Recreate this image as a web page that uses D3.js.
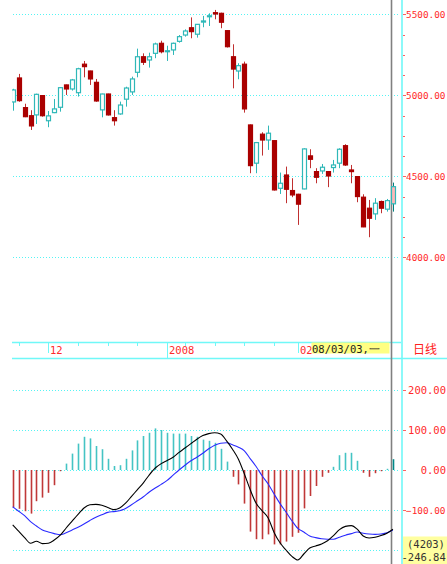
<!DOCTYPE html>
<html>
<head>
<meta charset="utf-8">
<style>
    body, html {
        margin: 0;
        padding: 0;
        background: #fff;
    }
    svg {
        display: block;
    }
    text {
        font-family: "DejaVu Sans Mono", "Liberation Mono", monospace;
        font-size: 10.5px;
    }
    text.long {
        font-size: 9.4px;
    }
</style>
</head>
<body>
<svg width="447" height="564"></svg>

<script src="https://d3js.org/d3.v7.min.js"></script>
<script>
    // daily candles, SSE composite, late Nov 2007 .. 2008-03-03
    var opens  = [4959, 5107, 4924, 4874, 4879, 4998, 4843, 4893, 4926, 5064, 5039, 5016, 5192, 5150, 5080, 4910,
                  5008, 4862, 4885, 4976, 5021, 5142, 5238, 5218, 5259, 5321, 5269, 5280, 5333, 5372, 5417, 5377,
                  5452, 5485, 5510, 5506, 5399, 5238, 5150, 5192, 4817, 4581, 4760, 4724, 4720, 4426, 4508, 4412,
                  4389, 4422, 4626, 4529, 4533, 4529, 4554, 4581, 4689, 4539, 4498, 4371, 4303, 4268, 4344, 4297, 4330];
    var highs  = [5040, 5132, 4948, 4908, 5010, 5000, 4903, 4977, 5050, 5066, 5101, 5170, 5212, 5152, 5101, 5010,
                  5010, 4908, 4961, 5053, 5115, 5288, 5259, 5263, 5325, 5337, 5306, 5325, 5372, 5407, 5481, 5440,
                  5490, 5506, 5527, 5510, 5402, 5315, 5198, 5208, 4820, 4712, 4772, 4813, 4722, 4523, 4560, 4488,
                  4392, 4673, 4667, 4550, 4576, 4531, 4601, 4673, 4698, 4570, 4500, 4389, 4354, 4365, 4350, 4360, 4461];
    var lows   = [4905, 4960, 4865, 4786, 4823, 4868, 4803, 4890, 4899, 5002, 5029, 4992, 5111, 5064, 4960, 4864,
                  4875, 4813, 4880, 4930, 5002, 5111, 5187, 5171, 5229, 5259, 5212, 5249, 5325, 5362, 5352, 5356,
                  5420, 5428, 5469, 5414, 5295, 5043, 5099, 4893, 4519, 4519, 4628, 4663, 4412, 4391, 4334, 4371,
                  4200, 4420, 4550, 4457, 4515, 4433, 4523, 4550, 4564, 4457, 4340, 4186, 4124, 4231, 4272, 4282, 4282];
    var closes = [5033, 4967, 4868, 4811, 5006, 4874, 4873, 4916, 5047, 5039, 5095, 5164, 5177, 5101, 4965, 5008,
                  4879, 4843, 4940, 5045, 5101, 5238, 5204, 5238, 5317, 5269, 5275, 5321, 5362, 5397, 5393, 5438,
                  5459, 5491, 5502, 5451, 5300, 5162, 5183, 4916, 4566, 4708, 4724, 4766, 4416, 4457, 4420, 4385,
                  4328, 4669, 4605, 4494, 4556, 4502, 4570, 4667, 4570, 4529, 4375, 4188, 4241, 4334, 4303, 4350, 4436];

    // MACD: DIF (black), DEA (blue), bars
    var dif  = [-137, -153, -169, -183, -178, -184, -183, -175, -163, -145, -128, -111, -95, -87, -86, -88,
                -94, -99, -95, -83, -66, -49, -32, -12, 5, 16, 24, 32, 44, 55, 66, 77,
                86, 91, 93, 90, 73, 52, 27, -10, -50, -84, -102, -120, -156, -182, -200, -216,
                -225, -210, -195, -190, -185, -177, -164, -149, -141, -139, -148, -165, -170, -168, -164, -158, -148];
    var dea  = [-92, -103, -114, -129, -140, -150, -155, -159, -162, -157, -150, -143, -135, -126, -118, -112,
                -106, -104, -102, -96, -87, -77, -67, -55, -45, -36, -26, -13, 0, 12, 23, 32,
                42, 53, 62, 67, 68, 63, 57, 48, 28, 8, -15, -35, -60, -84, -105, -127,
                -146, -155, -165, -169, -172, -173, -173, -168, -163, -159, -155, -158, -160, -161, -160, -157, -150];
    var bars = [-94, -97, -103, -109, -78, -69, -57, -38, -3, 16, 41, 66, 83, 79, 60, 52,
                28, 10, 12, 28, 49, 74, 85, 93, 104, 100, 93, 91, 91, 91, 85, 83,
                76, 73, 68, 53, 21, -17, -36, -84, -154, -173, -173, -161, -186, -186, -179, -167,
                -157, -96, -65, -40, -17, -7, 8, 37, 43, 43, 23, -7, -17, -8, -3, 3, 27];

    var priceTicks = [4000, 4500, 5000, 5500];
    var macdGrid = [-200, -100, 0, 100, 200];
    var macdLabels = [-100, 0, 100, 200];
    var weekTicks = [1, 6, 11, 16, 21, 26, 29, 34, 39, 44, 48];
    var monthIdx = [6, 26, 48];
    var monthText = ["12", "2008", "02"];
    var cursorDate = "08/03/03,一";
    var periodText = "日线";
    var infoText = ["(4203)", "-246.84"];

    var n = closes.length;
    var svg = d3.select("svg");

    var x = d3.scaleLinear().domain([0, n - 1]).range([12.7, 392.9]);
    var yP = d3.scaleLinear().domain([4000, 5500]).range([257.3, 14.3]);
    var yM = d3.scaleLinear().domain([-200, 200]).range([550, 390]);

    var gridColor = "#55f4f4";
    var axisColor = "#70f8f8";
    var upColor = "#2fb8b8";
    var downColor = "#aa0000";
    var labelColor = "#ff2a2a";

    svg.append("defs").append("clipPath").attr("id", "plot")
        .append("rect").attr("x", 12).attr("y", 0).attr("width", 389).attr("height", 564);

    // GRID
    svg.append("g").selectAll("line").data(priceTicks).join("line")
        .attr("x1", 13).attr("x2", 400)
        .attr("y1", d => Math.round(yP(d)) + 0.5).attr("y2", d => Math.round(yP(d)) + 0.5)
        .attr("stroke", gridColor).attr("stroke-dasharray", "1,2");

    svg.append("g").selectAll("line").data(macdGrid).join("line")
        .attr("x1", 13).attr("x2", 400)
        .attr("y1", d => Math.round(yM(d)) + 0.5).attr("y2", d => Math.round(yM(d)) + 0.5)
        .attr("stroke", gridColor).attr("stroke-dasharray", "1,2");

    // DATE STRIP
    svg.append("line").attr("x1", 12).attr("x2", 401).attr("y1", 342.5).attr("y2", 342.5)
        .attr("stroke", axisColor).attr("stroke-width", 1.5);
    svg.append("line").attr("x1", 12).attr("x2", 447).attr("y1", 358.5).attr("y2", 358.5)
        .attr("stroke", axisColor).attr("stroke-width", 1.5);

    svg.append("g").selectAll("line").data(weekTicks).join("line")
        .attr("x1", d => Math.round(x(d)) + 0.5).attr("x2", d => Math.round(x(d)) + 0.5)
        .attr("y1", 342).attr("y2", d => monthIdx.indexOf(d) < 0 ? 346 : (d === 26 ? 358 : 353))
        .attr("stroke", axisColor);

    svg.append("g").selectAll("text").data(monthIdx).join("text")
        .attr("x", d => Math.round(x(d)) + 2)
        .attr("y", 353.5)
        .attr("fill", labelColor)
        .text((d, i) => monthText[i]);

    // crosshair
    svg.append("line").attr("x1", 391.5).attr("x2", 391.5).attr("y1", 0).attr("y2", 564)
        .attr("stroke", "#808080").attr("stroke-width", 1.6);

    svg.append("rect").attr("x", 311.5).attr("y", 342.5).attr("width", 78).attr("height", 11)
        .attr("fill", "#ffff82");
    svg.append("text").attr("x", 312).attr("y", 352.5).attr("fill", "#222").text(cursorDate);

    // RIGHT AXIS
    svg.append("line").attr("x1", 402).attr("x2", 402).attr("y1", 0).attr("y2", 564)
        .attr("stroke", axisColor).attr("stroke-width", 1.6);

    svg.append("g").selectAll("line").data(d3.range(4000, 5501, 125)).join("line")
        .attr("x1", 403).attr("x2", d => d % 500 === 0 ? 406 : 405)
        .attr("y1", d => Math.round(yP(d)) + 0.5).attr("y2", d => Math.round(yP(d)) + 0.5)
        .attr("stroke", "#ff6060");

    // 7-char labels get a smaller size so they fit left of the window edge
    svg.append("g").selectAll("text").data(priceTicks).join("text")
        .attr("class", "long")
        .attr("x", 406).attr("y", d => yP(d) + 4)
        .attr("fill", labelColor)
        .text(d3.format(".2f"));

    svg.append("g").selectAll("line").data(macdLabels).join("line")
        .attr("x1", 403).attr("x2", 406)
        .attr("y1", d => Math.round(yM(d)) + 0.5).attr("y2", d => Math.round(yM(d)) + 0.5)
        .attr("stroke", "#ff6060");

    svg.append("g").selectAll("text").data(macdLabels).join("text")
        .attr("class", d => d < 0 ? "long" : null)
        .attr("x", d => d < 0 ? 406 : 446)
        .attr("text-anchor", d => d < 0 ? "start" : "end")
        .attr("y", d => yM(d) + 4)
        .attr("fill", labelColor)
        .text(d3.format(".2f"));

    svg.append("text").attr("x", 413).attr("y", 353.5)
        .attr("fill", "#ff2020")
        .style("font-family", "'Noto Sans CJK SC', sans-serif").style("font-size", "12px")
        .text(periodText);

    svg.append("rect").attr("x", 403).attr("y", 536.5).attr("width", 44).attr("height", 28)
        .attr("fill", "#ffffa0");
    svg.append("g").selectAll("text").data(infoText).join("text")
        .attr("x", (d, i) => i === 0 ? 407 : 401.5)
        .attr("y", (d, i) => 548 + i * 13)
        .attr("fill", "#333")
        .text(d => d);

    // CANDLES
    var plot = svg.append("g").attr("clip-path", "url(#plot)");
    var idx = d3.range(n);
    var last = n - 1;

    plot.append("g").selectAll("line").data(idx).join("line")
        .attr("x1", i => Math.round(x(i)) + 0.5).attr("x2", i => Math.round(x(i)) + 0.5)
        .attr("y1", i => yP(highs[i])).attr("y2", i => yP(lows[i]))
        .attr("stroke", i => i === last ? "#008080" : (closes[i] >= opens[i] ? upColor : "#c03030"));

    plot.append("g").selectAll("rect").data(idx).join("rect")
        .attr("x", i => Math.round(x(i)) - 1.5)
        .attr("width", 4)
        .attr("y", i => yP(Math.max(opens[i], closes[i])))
        .attr("height", i => Math.max(1, Math.abs(yP(opens[i]) - yP(closes[i]))))
        .attr("fill", i => i === last ? "#ffb8b8" : (closes[i] >= opens[i] ? "#ffffff" : downColor))
        .attr("stroke", i => closes[i] >= opens[i] ? upColor : downColor)
        .attr("stroke-width", 1.2);

    // MACD
    plot.append("g").selectAll("line").data(idx).join("line")
        .attr("x1", i => Math.round(x(i)) + 0.5).attr("x2", i => Math.round(x(i)) + 0.5)
        .attr("y1", yM(0)).attr("y2", i => yM(bars[i]))
        .attr("stroke", i => i === last ? "#008888" : (bars[i] >= 0 ? "#44c4c4" : "#c03838"))
        .attr("stroke-width", 1.6);

    var line = d3.line().x((d, i) => x(i)).y(d => yM(d)).curve(d3.curveMonotoneX);

    plot.append("path").datum(dea).attr("d", line)
        .attr("fill", "none").attr("stroke", "#2a2aff").attr("stroke-width", 1.1);
    plot.append("path").datum(dif).attr("d", line)
        .attr("fill", "none").attr("stroke", "#000").attr("stroke-width", 1.1);
</script>
</body>
</html>
